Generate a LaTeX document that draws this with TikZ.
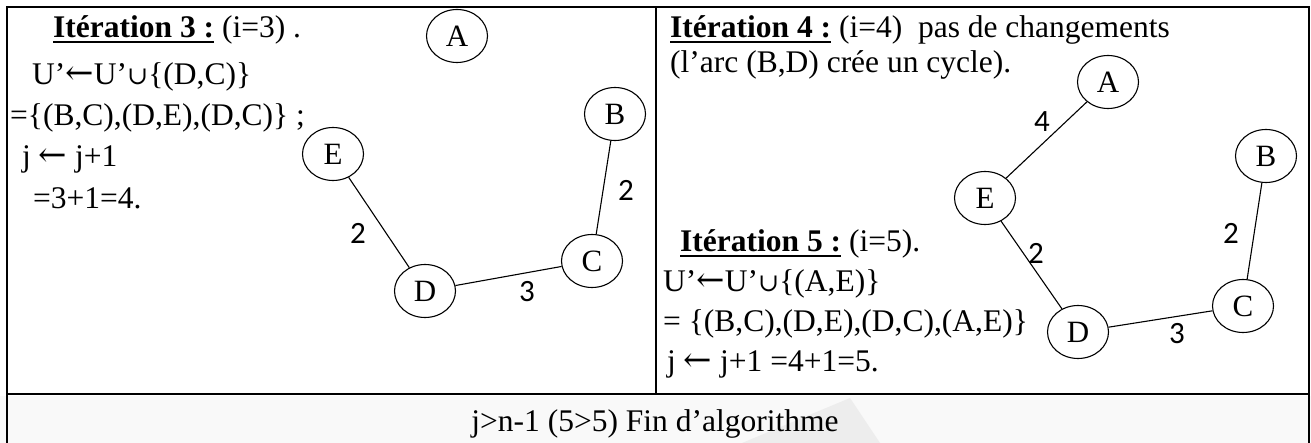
\documentclass[tikz,border=0pt]{standalone}
\usepackage{fontspec}
\setmainfont{Liberation Serif}
\newfontfamily\lblfont{Carlito}
\newfontfamily\symf{DejaVu Serif}
\usetikzlibrary{shapes.geometric}
\newcommand\ulbold[1]{\setbox0\hbox{\bfseries #1}\rlap{\rule[-5pt]{\wd0}{2.4pt}}\box0\relax}
\newcommand\la{{\symf\fontsize{34}{36}\selectfont ←}}
\newcommand\cupsym{\raisebox{0pt}{\scalebox{0.8}{\symf ∪}}}
\tikzset{
  txt/.style={anchor=base west, inner sep=0pt, font=\fontsize{31.5}{36}\selectfont},
  vtx/.style={ellipse, draw, line width=1.1pt, minimum width=61pt, minimum height=53pt, inner sep=0pt, font=\fontsize{31}{36}\selectfont},
  edge/.style={line width=1.1pt},
  wt/.style={font=\lblfont\fontsize{31}{34}\selectfont, inner sep=0pt},
  frame/.style={line width=2.5pt},
}
\begin{document}
\begin{tikzpicture}[x=1pt,y=-1pt]
\useasboundingbox (0,0) rectangle (1311,443);
\fill[gray!5] (0,396) rectangle (1311,443);
\fill[gray!14] (742,443) -- (850,398) -- (880,443) -- cycle;
% frame
\draw[frame] (7,443) -- (7,7) -- (1309,7) -- (1309,443);
\draw[line width=1.5pt] (656,7) -- (656,394);
\draw[frame] (7,394) -- (1309,394);
% left text
\node[txt] (l1) at (53,38) {\ulbold{Itération 3 :} (i=3) .};
\node[txt] (l2) at (32,85) {U’\la U’\cupsym\{(D,C)\}};
\node[txt] (l3) at (10,126) {=\{(B,C),(D,E),(D,C)\} ;};
\node[txt] (l4) at (22,167) {j \la{} j+1};
\node[txt] (l5) at (33,209) {=3+1=4.};
% left graph
\node[vtx] (A1) at (457,36) {A};
\node[vtx] (B1) at (615,114) {B};
\node[vtx] (E1) at (333,154) {E};
\node[vtx] (C1) at (592,261) {C};
\node[vtx] (D1) at (425,291) {D};
\draw[edge] (E1) -- (D1);
\draw[edge] (B1) -- (C1);
\draw[edge] (D1) -- (C1);
\node[wt] (w1) at (358,233) {2};
\node[wt] (w2) at (626,190) {2};
\node[wt] (w3) at (527,292) {3};
% right text
\node[txt] (r1) at (670,38) {\ulbold{Itération 4 :} (i=4)\ \ pas de changements};
\node[txt] (r2) at (670,73) {(l’arc (B,D) crée un cycle).};
\node[txt] (r3) at (680,252) {\ulbold{Itération 5 :} (i=5).};
\node[txt] (r4) at (663,292) {U’\la U’\cupsym\{(A,E)\}};
\node[txt] (r5) at (663,332) {= \{(B,C),(D,E),(D,C),(A,E)\}};
\node[txt] (r6) at (667,371) {j \la{} j+1 =4+1=5.};
% right graph
\node[vtx] (A2) at (1108,82) {A};
\node[vtx] (B2) at (1266,156) {B};
\node[vtx] (E2) at (985,198) {E};
\node[vtx] (C2) at (1243,306) {C};
\node[vtx] (D2) at (1078,332) {D};
\draw[edge] (A2) -- (E2);
\draw[edge] (E2) -- (D2);
\draw[edge] (B2) -- (C2);
\draw[edge] (D2) -- (C2);
\node[wt] (w4) at (1042,122) {4};
\node[wt] (w5) at (1036,253) {2};
\node[wt] (w6) at (1231,233) {2};
\node[wt] (w7) at (1177,334) {3};
% bottom
\node[txt, anchor=base] (b1) at (655,431) {j>n-1 (5>5) Fin d’algorithme};
\end{tikzpicture}
\end{document}
